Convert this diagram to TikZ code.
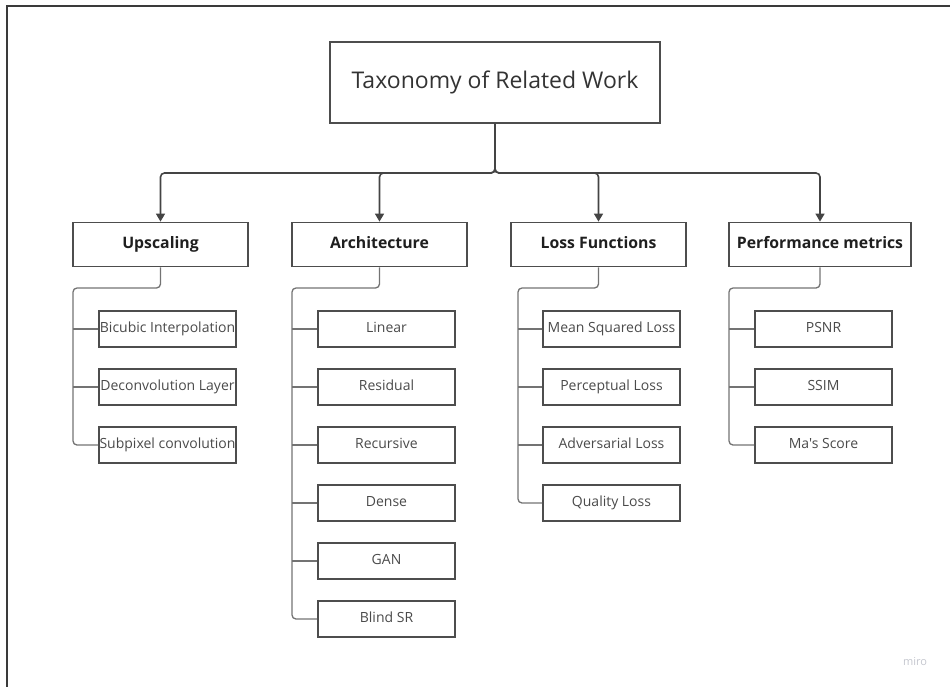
\documentclass[tikz,border=0pt]{standalone}
\usepackage{fontspec}
\setmainfont{Open Sans}[Ligatures=TeXOff]
\usetikzlibrary{arrows.meta}

\definecolor{framegray}{HTML}{3A3A3A}
\definecolor{boxgray}{HTML}{4D4D4D}
\definecolor{linkgray}{HTML}{444444}
\definecolor{railgray}{HTML}{737373}
\definecolor{titletext}{HTML}{333333}
\definecolor{cattext}{HTML}{1F1F1F}
\definecolor{itemtext}{HTML}{4A4A4A}
\definecolor{marktext}{HTML}{C4C6CE}

\tikzset{
  titlebox/.style={draw=boxgray, line width=1.6pt, minimum width=330pt, minimum height=81pt,
    inner sep=0pt, font=\fontsize{23}{27}\selectfont, text=titletext},
  catbox/.style={draw=boxgray, line width=1.8pt, minimum height=44pt, inner sep=0pt,
    text height=11.5pt, text depth=3.5pt,
    font=\fontsize{15.8}{19}\selectfont\bfseries, text=cattext},
  itembox/.style={draw=boxgray, line width=1.7pt, minimum width=137pt, minimum height=36pt,
    inner sep=0pt, text height=10.5pt, text depth=3pt,
    font=\fontsize{14}{17}\selectfont, text=itemtext},
  link/.style={draw=linkgray, line width=1.6pt, rounded corners=4pt,
    -{Triangle[length=8pt,width=9pt]}},
  rail/.style={draw=railgray, line width=1.3pt, rounded corners=4pt},
  branch/.style={draw=railgray, line width=1.3pt},
}

\begin{document}
\begin{tikzpicture}[x=1pt,y=-1pt]
\useasboundingbox (0,0) rectangle (950,686);

% page frame, cut off at the right and bottom
\draw[framegray, line width=2pt] (6.5,690) -- (6.5,5.5) -- (955,5.5);

% root
\node[titlebox] (root) at (495,82.5) {Taxonomy of Related Work};
\coordinate (bus) at (495,173);

% categories
\node[catbox, minimum width=175pt] (up)   at (160.5,244.5) {Upscaling};
\node[catbox, minimum width=175pt] (arch) at (379.5,244.5) {Architecture};
\node[catbox, minimum width=175pt] (loss) at (598.5,244.5) {Loss Functions};
\node[catbox, minimum width=182pt] (perf) at (820,244.5) {Performance metrics};

\draw[link] (root.south) -- (bus) -| (up.north);
\draw[link] (root.south) -- (bus) -| (arch.north);
\draw[link] (root.south) -- (bus) -| (loss.north);
\draw[link] (root.south) -- (bus) -| (perf.north);

% Upscaling items
\node[itembox] (u1) at (167.5,329) {Bicubic Interpolation};
\node[itembox] (u2) at (167.5,387) {Deconvolution Layer};
\node[itembox] (u3) at (167.5,445) {Subpixel convolution};
\coordinate (urail) at (73,288);
\draw[rail] (up.south) |- (urail) |- (u3.west);
\draw[branch] (u1.west) -- (u1.west -| urail);
\draw[branch] (u2.west) -- (u2.west -| urail);

% Architecture items
\node[itembox] (a1) at (386.5,329) {Linear};
\node[itembox] (a2) at (386.5,387) {Residual};
\node[itembox] (a3) at (386.5,445) {Recursive};
\node[itembox] (a4) at (386.5,503) {Dense};
\node[itembox] (a5) at (386.5,561) {GAN};
\node[itembox] (a6) at (386.5,619) {Blind SR};
\coordinate (arail) at (292,288);
\draw[rail] (arch.south) |- (arail) |- (a6.west);
\foreach \n in {a1,a2,a3,a4,a5}
  \draw[branch] (\n.west) -- (\n.west -| arail);

% Loss function items
\node[itembox] (l1) at (611.5,329) {Mean Squared Loss};
\node[itembox] (l2) at (611.5,387) {Perceptual Loss};
\node[itembox] (l3) at (611.5,445) {Adversarial Loss};
\node[itembox] (l4) at (611.5,503) {Quality Loss};
\coordinate (lrail) at (518,288);
\draw[rail] (loss.south) |- (lrail) |- (l4.west);
\foreach \n in {l1,l2,l3}
  \draw[branch] (\n.west) -- (\n.west -| lrail);

% Performance metric items
\node[itembox] (p1) at (823.5,329) {PSNR};
\node[itembox] (p2) at (823.5,387) {SSIM};
\node[itembox] (p3) at (823.5,445) {Ma's Score};
\coordinate (prail) at (729,288);
\draw[rail] (perf.south) |- (prail) |- (p3.west);
\foreach \n in {p1,p2}
  \draw[branch] (\n.west) -- (\n.west -| prail);

% watermark
\node[text=marktext, font=\fontsize{11}{13}\selectfont] (mark) at (915,662) {miro};
\end{tikzpicture}
\end{document}
